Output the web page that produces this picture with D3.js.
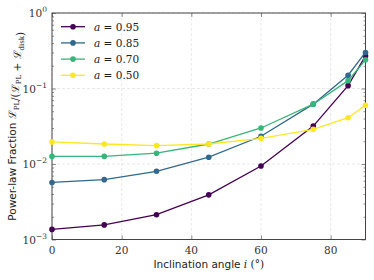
<!DOCTYPE html>
<html><head><meta charset="utf-8">
<script src="https://cdn.jsdelivr.net/npm/d3@7"></script>
<style>body{margin:0;background:#fff}</style>
</head><body>
<svg id="c" width="374" height="280"></svg>
<script>
const angles = [0, 15, 30, 45, 60, 75, 85, 90];
const spins = ["0.95", "0.85", "0.70", "0.50"];
const colors = ["#440154", "#31688e", "#35b779", "#fde725"];
const fracA095 = [0.00136, 0.00156, 0.00213, 0.0039, 0.0094, 0.0318, 0.109, 0.27];
const fracA085 = [0.0057, 0.0062, 0.0080, 0.0123, 0.0233, 0.062, 0.150, 0.30];
const fracA070 = [0.0126, 0.0126, 0.0139, 0.0184, 0.030, 0.062, 0.127, 0.24];
const fracA050 = [0.0196, 0.0184, 0.0175, 0.0184, 0.0219, 0.0288, 0.041, 0.060];
const series = [fracA095, fracA085, fracA070, fracA050];
const xTicks = [0, 20, 40, 60, 80];
const yTicks = [-3, -2, -1, 0];

const svg = d3.select("#c");
const m = {l: 52, r: 365.5, t: 13, b: 239.5};
const x = d3.scaleLinear().domain([0, 90]).range([m.l, m.r]);
const y = d3.scaleLog().domain([1e-3, 1]).range([m.b, m.t]);
const serif = "'DejaVu Serif',serif";
const sans = "'DejaVu Sans','Noto Sans',sans-serif";

// grid
const g = svg.append("g");
xTicks.forEach(t => g.append("line").attr("x1", x(t)).attr("x2", x(t)).attr("y1", m.t).attr("y2", m.b)
  .attr("stroke", "#e3e3e3").attr("stroke-width", 0.8).attr("stroke-dasharray", "3,2"));
yTicks.forEach(t => g.append("line").attr("x1", m.l).attr("x2", m.r).attr("y1", y(Math.pow(10, t))).attr("y2", y(Math.pow(10, t)))
  .attr("stroke", "#e3e3e3").attr("stroke-width", 0.8).attr("stroke-dasharray", "3,2"));

// axes with inward ticks
const ax = svg.append("g");
const xb = d3.axisBottom(x).tickValues(xTicks).tickSize(-4).tickFormat("");
const xt = d3.axisTop(x).tickValues(xTicks).tickSize(-4).tickFormat("");
ax.append("g").attr("transform", `translate(0,${m.b})`).call(xb);
ax.append("g").attr("transform", `translate(0,${m.t})`).call(xt);
const minor = [];
for (let e = -3; e < 0; e++) for (let k = 2; k <= 9; k++) minor.push(k * Math.pow(10, e));
const yl = d3.axisLeft(y).tickValues(yTicks.map(t => Math.pow(10, t))).tickSize(-4).tickFormat("");
const yr = d3.axisRight(y).tickValues(yTicks.map(t => Math.pow(10, t))).tickSize(-4).tickFormat("");
const ylm = d3.axisLeft(y).tickValues(minor).tickSize(-2).tickFormat("");
const yrm = d3.axisRight(y).tickValues(minor).tickSize(-2).tickFormat("");
ax.append("g").attr("transform", `translate(${m.l},0)`).call(yl);
ax.append("g").attr("transform", `translate(${m.l},0)`).call(ylm);
ax.append("g").attr("transform", `translate(${m.r},0)`).call(yr);
ax.append("g").attr("transform", `translate(${m.r},0)`).call(yrm);
ax.selectAll(".domain").remove();
ax.selectAll("line").attr("stroke", "#444").attr("stroke-width", 0.6);
svg.append("rect").attr("x", m.l).attr("y", m.t).attr("width", m.r - m.l).attr("height", m.b - m.t)
  .attr("fill", "none").attr("stroke", "#444").attr("stroke-width", 1);

// tick labels
xTicks.forEach(t => svg.append("text").attr("x", x(t)).attr("y", m.b + 14).attr("text-anchor", "middle")
  .attr("font-family", serif).attr("font-size", 10.5).attr("fill", "#333").text(t));
yTicks.forEach(t => {
  const tx = svg.append("text").attr("x", m.l - 5).attr("y", y(Math.pow(10, t)) + 4).attr("text-anchor", "end")
    .attr("font-family", serif).attr("font-size", 10.5).attr("fill", "#333");
  tx.append("tspan").text("10");
  tx.append("tspan").attr("dy", -5).attr("font-size", 7.5).text(t < 0 ? "\u2212" + (-t) : t);
});

// lines
const line = d3.line().x((d, i) => x(angles[i])).y(d => y(d));
series.forEach((s, k) => {
  svg.append("path").datum(s).attr("d", line).attr("fill", "none").attr("stroke", colors[k]).attr("stroke-width", 1.3);
  svg.selectAll(null).data(s).enter().append("circle").attr("cx", (d, i) => x(angles[i])).attr("cy", d => y(d))
    .attr("r", 2.8).attr("fill", colors[k]);
});

// legend
spins.forEach((sp, k) => {
  const ly = 26.7 + k * 16.2;
  svg.append("line").attr("x1", 61).attr("x2", 85).attr("y1", ly).attr("y2", ly).attr("stroke", colors[k]).attr("stroke-width", 1.3);
  svg.append("circle").attr("cx", 73).attr("cy", ly).attr("r", 2.8).attr("fill", colors[k]);
  const t = svg.append("text").attr("x", 94).attr("y", ly + 3.8).attr("font-family", serif).attr("font-size", 10.5).attr("fill", "#222");
  t.append("tspan").attr("font-style", "italic").text("a");
  t.append("tspan").text(" = " + sp);
});

// axis labels
const xl = svg.append("text").attr("x", (m.l + m.r) / 2).attr("y", 268).attr("text-anchor", "middle")
  .attr("font-family", sans).attr("font-size", 10.5).attr("fill", "#222");
xl.append("tspan").text("Inclination angle ");
xl.append("tspan").attr("font-family", serif).attr("font-style", "italic").text("i");
xl.append("tspan").attr("font-family", serif).text(" (\u00b0)");

const ylab = svg.append("text").attr("transform", `translate(16,${(m.t + m.b) / 2}) rotate(-90)`).attr("text-anchor", "middle")
  .attr("font-family", sans).attr("font-size", 10.5).attr("fill", "#222");
ylab.append("tspan").text("Power-law Fraction ");
const sub = (el, main, s) => {
  el.append("tspan").attr("font-family", serif).text(main);
  el.append("tspan").attr("font-family", serif).attr("font-size", 7).attr("dy", 2.5).text(s);
  el.append("tspan").attr("font-size", 10.5).attr("dy", -2.5).text("");
};
sub(ylab, "\u2112", "PL");
ylab.append("tspan").attr("font-family", serif).text("/(");
sub(ylab, "\u2112", "PL");
ylab.append("tspan").attr("font-family", serif).text(" + ");
sub(ylab, "\u2112", "disk");
ylab.append("tspan").attr("font-family", serif).text(")");
</script>
</body></html>
